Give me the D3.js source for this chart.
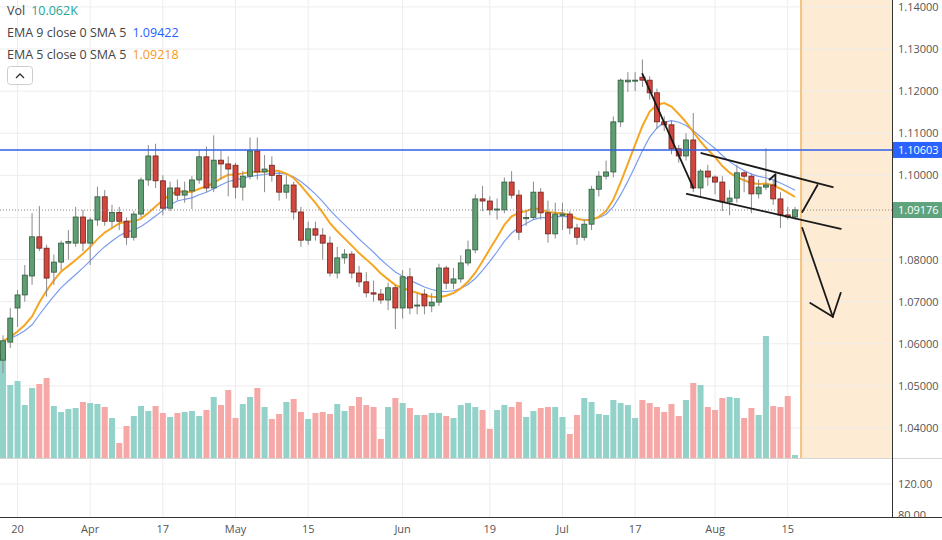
<!DOCTYPE html>
<html>
<head>
<meta charset="utf-8">
<script src="https://cdn.jsdelivr.net/npm/d3@7"></script>
<style>
  body { margin: 0; background: #fff; }
  svg { display: block; font-family: "Open Sans", "DejaVu Sans", sans-serif; }
</style>
</head>
<body>
<div id="chart"></div>
<script>
// Daily candles, Mar 16 .. Aug 16 : [open, high, low, close]
const candles = [
  [1.0561,1.0620,1.0530,1.0607],[1.0604,1.0685,1.0590,1.0661],[1.0685,1.0728,1.0640,1.0716],[1.0716,1.0787,1.0700,1.0763],
  [1.0761,1.0910,1.0740,1.0854],[1.0854,1.0927,1.0820,1.0827],[1.0827,1.0835,1.0712,1.0756],[1.0770,1.0812,1.0740,1.0794],
  [1.0794,1.0845,1.0775,1.0839],[1.0839,1.0870,1.0800,1.0843],[1.0839,1.0925,1.0830,1.0901],[1.0901,1.0918,1.0820,1.0839],
  [1.0839,1.0900,1.0787,1.0894],[1.0894,1.0973,1.0880,1.0949],[1.0949,1.0965,1.0880,1.0891],[1.0891,1.0930,1.0875,1.0912],
  [1.0912,1.0925,1.0870,1.0891],[1.0891,1.0900,1.0835,1.0853],[1.0853,1.0915,1.0845,1.0908],[1.0908,1.0995,1.0900,1.0989],
  [1.0989,1.1072,1.0975,1.1046],[1.1046,1.1075,1.0970,1.0987],[1.0987,1.1000,1.0905,1.0922],[1.0922,1.0985,1.0915,1.0970],
  [1.0970,1.0990,1.0940,1.0953],[1.0953,1.0985,1.0935,1.0963],[1.0963,1.0998,1.0920,1.0989],[1.0989,1.1060,1.0980,1.1044],
  [1.1044,1.1068,1.0960,1.0970],[1.0970,1.1095,1.0960,1.1036],[1.1036,1.1058,1.0990,1.1027],[1.1027,1.1045,1.0950,1.1015],
  [1.1024,1.1030,1.0945,1.0972],[1.0972,1.1010,1.0940,1.0998],[1.0998,1.1090,1.0990,1.1058],[1.1058,1.1090,1.0990,1.1008],
  [1.1008,1.1048,1.0960,1.1015],[1.1024,1.1045,1.0985,1.1000],[1.1000,1.1008,1.0940,1.0960],[1.0960,1.1000,1.0945,1.0977],
  [1.0977,1.0985,1.0895,1.0913],[1.0913,1.0925,1.0830,1.0846],[1.0846,1.0890,1.0835,1.0873],[1.0873,1.0890,1.0845,1.0858],
  [1.0858,1.0875,1.0800,1.0839],[1.0839,1.0855,1.0760,1.0768],[1.0768,1.0830,1.0755,1.0804],[1.0804,1.0825,1.0790,1.0813],
  [1.0813,1.0820,1.0755,1.0768],[1.0768,1.0785,1.0735,1.0747],[1.0747,1.0770,1.0710,1.0721],[1.0721,1.0750,1.0700,1.0718],
  [1.0718,1.0730,1.0695,1.0704],[1.0704,1.0745,1.0680,1.0733],[1.0733,1.0740,1.0635,1.0685],[1.0685,1.0775,1.0660,1.0759],
  [1.0759,1.0780,1.0670,1.0685],[1.0690,1.0720,1.0670,1.0692],[1.0718,1.0730,1.0670,1.0690],[1.0690,1.0720,1.0675,1.0699],
  [1.0699,1.0790,1.0690,1.0780],[1.0780,1.0785,1.0730,1.0744],[1.0744,1.0780,1.0730,1.0754],[1.0754,1.0810,1.0745,1.0792],
  [1.0792,1.0845,1.0785,1.0823],[1.0823,1.0955,1.0815,1.0944],[1.0944,1.0975,1.0915,1.0939],[1.0939,1.0950,1.0905,1.0918],
  [1.0918,1.0945,1.0895,1.0920],[1.0918,1.0995,1.0910,1.0984],[1.0984,1.1010,1.0945,1.0953],[1.0953,1.0965,1.0846,1.0865],
  [1.0897,1.0915,1.0880,1.0900],[1.0900,1.0985,1.0895,1.0960],[1.0960,1.0970,1.0895,1.0911],[1.0911,1.0940,1.0840,1.0861],
  [1.0861,1.0935,1.0850,1.0908],[1.0905,1.0935,1.0870,1.0908],[1.0908,1.0915,1.0860,1.0875],[1.0875,1.0885,1.0835,1.0853],
  [1.0853,1.0895,1.0845,1.0884],[1.0884,1.0975,1.0870,1.0967],[1.0967,1.1010,1.0950,1.0998],[1.0998,1.1035,1.0990,1.1008],
  [1.1008,1.1140,1.0995,1.1127],[1.1127,1.1230,1.1115,1.1226],[1.1222,1.1245,1.1198,1.1226],[1.1224,1.1245,1.1200,1.1226],
  [1.1233,1.1275,1.1210,1.1226],[1.1226,1.1235,1.1180,1.1196],[1.1196,1.1206,1.1110,1.1127],[1.1127,1.1140,1.1105,1.1120],
  [1.1120,1.1130,1.1050,1.1063],[1.1063,1.1072,1.1030,1.1046],[1.1046,1.1100,1.1035,1.1084],[1.1084,1.1148,1.0960,1.0970],
  [1.0970,1.1015,1.0950,1.1010],[1.1010,1.1025,1.0975,1.0996],[1.0996,1.1000,1.0955,1.0984],[1.0984,1.0998,1.0915,1.0937],
  [1.0937,1.0965,1.0905,1.0946],[1.0946,1.1025,1.0935,1.1006],[1.1006,1.1010,1.0960,1.0998],[1.0998,1.1005,1.0910,1.0956],
  [1.0956,1.0990,1.0945,1.0972],[1.0972,1.1064,1.0965,1.0977],[1.0977,1.0990,1.0930,1.0944],[1.0944,1.0960,1.0875,1.0906],
  [1.0906,1.0925,1.0895,1.0901],[1.0901,1.0925,1.0895,1.0918]
];

const volumes = [
  104,73,77,53,70,74,80,52,46,49,50,56,55,54,51,40,15,32,42,52,47,52,45,41,45,46,47,42,48,61,
  53,68,40,54,61,70,51,39,44,56,59,46,39,45,46,44,54,47,52,61,53,51,19,51,60,55,50,43,
  43,45,45,42,40,53,55,51,48,29,48,53,51,56,41,47,50,51,51,41,24,43,60,56,44,43,58,55,53,40,
  58,55,51,46,54,42,58,75,73,51,48,60,61,60,40,50,43,122,52,51,62,3
];

// x tick labels: [candle index, label]
const dateTicks = [[2,"20"],[12,"Apr"],[22,"17"],[32,"May"],[42,"15"],[55,"Jun"],[67,"19"],[77,"Jul"],[87,"17"],[98,"Aug"],[108,"15"]];
const priceTicks = [1.14,1.13,1.12,1.11,1.10,1.09,1.08,1.07,1.06,1.05,1.04];
const lowerTicks = [120, 80];
const resistance = 1.10603;
const lastPrice = 1.09176;

// hand-drawn lines: [[index, price], [index, price]]
const drawings = [
  [[88.0,1.1241],[95.0,1.0970]],
  [[96.1,1.1053],[114.2,1.0972]],
  [[94.1,1.0956],[115.3,1.0873]],
  [[110.0,1.0913],[112.1,1.0977]],
  [[110.0,1.0875],[114.2,1.0664]],
  [[111.1,1.0697],[114.2,1.0664]],
  [[114.2,1.0664],[115.3,1.0721]],
  [[105.5,1.0990],[106.3,1.1002]],
  [[106.3,1.1002],[106.3,1.0975]]
];

const W = 942, H = 540;
const plotRight = 892;
const svg = d3.select("#chart").append("svg").attr("width", W).attr("height", H);

const x = d3.scaleLinear().domain([0, 109]).range([3, 795]);
const y = d3.scaleLinear().domain([1.04, 1.13]).range([428, 49]);
const yVol = d3.scaleLinear().domain([0, 130]).range([458, 328]);
const yLow = d3.scaleLinear().domain([80, 120]).range([515, 484]);

// forecast zone
svg.append("rect").attr("x", x(109) + 6).attr("y", 0).attr("width", plotRight - x(109) - 6).attr("height", 458)
  .attr("fill", "#fdebd3");

// grid
svg.append("g").selectAll("line").data(priceTicks).join("line")
  .attr("x1", 0).attr("x2", plotRight).attr("y1", d => y(d)).attr("y2", d => y(d))
  .attr("stroke", "#ececec");
svg.append("g").selectAll("line").data(dateTicks).join("line")
  .attr("x1", d => x(d[0])).attr("x2", d => x(d[0])).attr("y1", 0).attr("y2", 517)
  .attr("stroke", "#ececec");
svg.append("line").attr("x1", 0).attr("x2", W).attr("y1", 458.5).attr("y2", 458.5).attr("stroke", "#d6d6d6");
svg.append("line").attr("x1", 0).attr("x2", plotRight).attr("y1", yLow(120)).attr("y2", yLow(120)).attr("stroke", "#ececec");

svg.append("line").attr("x1", x(109) + 6).attr("x2", x(109) + 6).attr("y1", 0).attr("y2", 458)
  .attr("stroke", "#f6b35c").attr("stroke-width", 1.5);

// volume
const up = d => d[3] >= d[0];
svg.append("g").selectAll("rect").data(volumes).join("rect")
  .attr("x", (d, i) => x(i) - 3).attr("width", 6)
  .attr("y", d => yVol(d)).attr("height", d => yVol(0) - yVol(d))
  .attr("fill", (d, i) => up(candles[i]) ? "#93d2c9" : "#f5a8a6");

// moving averages: EMA on close, smoothed with SMA 5
function emaSma(period) {
  const k = 2 / (period + 1);
  const ema = [];
  candles.forEach((c, i) => ema.push(i === 0 ? c[3] : c[3] * k + ema[i - 1] * (1 - k)));
  return ema.map((v, i) => d3.mean(ema.slice(Math.max(0, i - 4), i + 1)));
}
const line = d3.line().x((d, i) => x(i)).y(d => y(d));
svg.append("path").datum(emaSma(9)).attr("d", line).attr("fill", "none").attr("stroke", "#7a9cf0").attr("stroke-width", 1.2);
svg.append("path").datum(emaSma(5)).attr("d", line).attr("fill", "none").attr("stroke", "#f5a623").attr("stroke-width", 2);

// candles
const cg = svg.append("g").selectAll("g").data(candles).join("g");
cg.append("line").attr("x1", (d, i) => x(i)).attr("x2", (d, i) => x(i))
  .attr("y1", d => y(d[1])).attr("y2", d => y(d[2])).attr("stroke", "#8a8a8a");
cg.append("rect").attr("x", (d, i) => x(i) - 2.5).attr("width", 5)
  .attr("y", d => y(Math.max(d[0], d[3])))
  .attr("height", d => Math.max(1, Math.abs(y(d[0]) - y(d[3]))))
  .attr("fill", d => up(d) ? "#5f9e72" : "#d1473d")
  .attr("stroke", d => up(d) ? "#2f5a3c" : "#6e221c").attr("stroke-width", 0.8);

// horizontal levels
svg.append("line").attr("x1", 0).attr("x2", plotRight).attr("y1", y(resistance)).attr("y2", y(resistance))
  .attr("stroke", "#2f5fe8").attr("stroke-width", 1.6);
svg.append("line").attr("x1", 0).attr("x2", plotRight).attr("y1", y(lastPrice)).attr("y2", y(lastPrice))
  .attr("stroke", "#888").attr("stroke-dasharray", "1,2");

// drawings
svg.append("g").selectAll("line").data(drawings).join("line")
  .attr("x1", d => x(d[0][0])).attr("y1", d => y(d[0][1]))
  .attr("x2", d => x(d[1][0])).attr("y2", d => y(d[1][1]))
  .attr("stroke", "#1a1a1a").attr("stroke-width", 1.8).attr("stroke-linecap", "round");

// axes frame
svg.append("line").attr("x1", plotRight + 0.5).attr("x2", plotRight + 0.5).attr("y1", 0).attr("y2", H).attr("stroke", "#333");
svg.append("line").attr("x1", 0).attr("x2", W).attr("y1", 517.5).attr("y2", 517.5).attr("stroke", "#333");

// price labels (those hidden behind a price tag are skipped)
const tagged = [resistance, lastPrice];
svg.append("g").selectAll("text")
  .data(priceTicks.filter(d => tagged.every(t => Math.abs(y(d) - y(t)) > 12))).join("text")
  .attr("x", plotRight + 6).attr("y", d => y(d) + 4).attr("font-size", 11).attr("fill", "#555")
  .text(d => d.toFixed(5));
svg.append("g").selectAll("text").data(lowerTicks).join("text")
  .attr("x", plotRight + 6).attr("y", d => yLow(d) + 4).attr("font-size", 11).attr("fill", "#555")
  .text(d => d.toFixed(2));
svg.append("rect").attr("x", 0).attr("y", 518).attr("width", W).attr("height", 22).attr("fill", "#fff");

function priceTag(v, color) {
  svg.append("rect").attr("x", plotRight + 1).attr("y", y(v) - 8).attr("width", W - plotRight - 1).attr("height", 16).attr("fill", color);
  svg.append("text").attr("x", plotRight + 6).attr("y", y(v) + 4).attr("font-size", 11).attr("fill", "#fff").text(v.toFixed(5));
}
priceTag(resistance, "#2962ff");
priceTag(lastPrice, "#5ea37c");

// date labels
svg.append("g").selectAll("text").data(dateTicks).join("text")
  .attr("x", d => x(d[0])).attr("y", 533).attr("text-anchor", "middle").attr("font-size", 11).attr("fill", "#555")
  .text(d => d[1]);

// legend
const legend = [["Vol", "10.062K", "#26a69a"], ["EMA 9 close 0 SMA 5", "1.09422", "#2962ff"], ["EMA 5 close 0 SMA 5", "1.09218", "#f59a23"]];
legend.forEach((l, i) => {
  const t = svg.append("text").attr("x", 7).attr("y", 15 + i * 22).attr("font-size", 12.5);
  t.append("tspan").attr("fill", "#444").text(l[0]);
  t.append("tspan").attr("fill", l[2]).attr("dx", 6).text(l[1]);
});
svg.append("rect").attr("x", 7.5).attr("y", 66.5).attr("width", 25).attr("height", 18).attr("rx", 3)
  .attr("fill", "#fff").attr("stroke", "#ccc");
svg.append("path").attr("d", "M16,78 L20,74 L24,78").attr("fill", "none").attr("stroke", "#333").attr("stroke-width", 1.3);
</script>
</body>
</html>
